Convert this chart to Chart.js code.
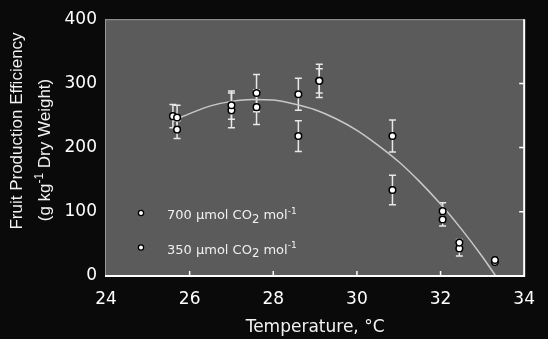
<!DOCTYPE html>
<html><head><meta charset="utf-8">
<script src="https://cdn.jsdelivr.net/npm/chart.js@4"></script>
<style>html,body{margin:0;padding:0;background:#0a0a0a;}canvas{display:block;}</style>
</head><body>
<canvas id="c" width="548" height="339"></canvas>
<script>
// ---- data ----
const temps700 = [25.6, 25.7, 27.0, 27.6, 28.6, 29.1, 30.85, 32.05, 32.45, 33.3];
const eff700   = [249, 247, 266, 285, 283, 304, 218, 101, 52, 25];
const err700   = [18, 19, 22, 29, 25, 26, 25, 13, 5, 3];
const temps350 = [25.7, 27.0, 27.6, 28.6, 29.1, 30.85, 32.05, 32.45, 33.3];
const eff350   = [228, 258, 263, 218, 304, 134, 88, 43, 22];
const err350   = [14, 27, 27, 24, 19, 23, 10, 12, 3];
const fitTemps = [25.7, 26, 26.5, 27, 27.5, 28, 28.5, 29, 29.5, 30, 30.5, 31, 31.5, 32, 32.5, 33, 33.32];
const fitEff   = [245, 253, 265, 272, 275, 274, 268, 259, 245, 227, 204, 178, 147, 112, 73, 30, 0];
const xTickVals = [24, 26, 28, 30, 32, 34];
const yTickVals = [0, 100, 200, 300, 400];
const label700 = '700 µmol CO₂ mol⁻¹';
const label350 = '350 µmol CO₂ mol⁻¹';
const xTitle = 'Temperature, °C';
const yTitle = ['Fruit Production Efficiency', '(g kg⁻¹ Dry Weight)'];

const FONT = '"Liberation Sans", Arial, Helvetica, sans-serif';
const WFONT = '"DejaVu Sans", Verdana, sans-serif';
const pts = (xs, ys) => xs.map((v, i) => ({x: v, y: ys[i]}));

function richParts(str){
  const sub = {'₂':'2'}, sup = {'⁻':'-', '¹':'1'};
  const parts = [];
  for (const ch of str){
    let t = 'n', c = ch;
    if (sub[ch]) { t = 'sub'; c = sub[ch]; }
    else if (sup[ch]) { t = 'sup'; c = sup[ch]; }
    const last = parts[parts.length-1];
    if (last && last.t === t) last.s += c; else parts.push({t, s:c});
  }
  return parts;
}
function drawRich(ctx, str, x, y, size, align, family){
  const parts = richParts(str);
  const sz = p => p.t === 'n' ? size : (p.t === 'sub' ? size*0.9 : size*0.7);
  let w = 0;
  parts.forEach(p => { ctx.font = sz(p) + 'px ' + family; p.w = ctx.measureText(p.s).width; w += p.w; });
  let cx = align === 'center' ? x - w/2 : x;
  ctx.textAlign = 'left'; ctx.textBaseline = 'alphabetic';
  parts.forEach(p => {
    ctx.font = sz(p) + 'px ' + family;
    const dy = p.t === 'sub' ? size*0.28 : (p.t === 'sup' ? -size*0.4 : 0);
    ctx.fillText(p.s, cx, y + dy);
    cx += p.w;
  });
}

const bgPlugin = {
  id: 'bg',
  beforeDraw(chart){
    const {ctx, chartArea: a} = chart;
    ctx.save();
    ctx.fillStyle = '#0a0a0a';
    ctx.fillRect(0, 0, chart.width, chart.height);
    ctx.fillStyle = '#5b5b5b';
    ctx.fillRect(a.left - 1, a.top, a.right - a.left + 1, a.bottom - a.top);
    ctx.strokeStyle = '#9a9a9a'; ctx.lineWidth = 1;
    ctx.beginPath();
    ctx.moveTo(a.left - 1, a.top + 0.5); ctx.lineTo(a.right, a.top + 0.5);
    ctx.moveTo(a.left - 0.5, a.top); ctx.lineTo(a.left - 0.5, a.bottom);
    ctx.stroke();
    ctx.restore();
  }
};

const errorBarPlugin = {
  id: 'errbars',
  beforeDatasetsDraw(chart){
    const {ctx, scales: {x, y}} = chart;
    ctx.save();
    ctx.strokeStyle = '#e8e8e8'; ctx.lineWidth = 1.5;
    chart.data.datasets.forEach(ds => {
      if (!ds.errors) return;
      ds.data.forEach((p, i) => {
        const e = ds.errors[i];
        const px = x.getPixelForValue(p.x);
        const t = y.getPixelForValue(p.y + e), b = y.getPixelForValue(p.y - e);
        ctx.beginPath();
        ctx.moveTo(px, t); ctx.lineTo(px, b);
        ctx.moveTo(px - 3.5, t); ctx.lineTo(px + 3.5, t);
        ctx.moveTo(px - 3.5, b); ctx.lineTo(px + 3.5, b);
        ctx.stroke();
      });
    });
    ctx.restore();
  }
};

const framePlugin = {
  id: 'frame',
  afterDraw(chart){
    const {ctx, chartArea: a, scales: {x, y}} = chart;
    ctx.save();
    ctx.strokeStyle = '#ffffff'; ctx.lineWidth = 2;
    ctx.beginPath();
    ctx.moveTo(a.left - 1, a.bottom); ctx.lineTo(a.right, a.bottom);
    ctx.moveTo(a.right, a.top); ctx.lineTo(a.right, a.bottom + 1);
    ctx.stroke();
    ctx.lineWidth = 1.5;
    ctx.beginPath();
    x.ticks.forEach(t => {
      if (t.value <= x.min || t.value >= x.max) return;
      const px = x.getPixelForValue(t.value);
      ctx.moveTo(px, a.bottom); ctx.lineTo(px, a.bottom - 5);
    });
    y.ticks.forEach(t => {
      if (t.value <= y.min || t.value >= y.max) return;
      const py = y.getPixelForValue(t.value);
      ctx.moveTo(a.right, py); ctx.lineTo(a.right - 5, py);
    });
    ctx.stroke();

    // y axis title (two lines, rotated)
    const lines = chart.options.scales.y.title.text;
    ctx.fillStyle = '#f2f2f2';
    const baselines = [21.5, 49.5];
    const centers = [131, 150];
    lines.forEach((ln, i) => {
      ctx.save();
      ctx.translate(baselines[i], centers[i]);
      ctx.rotate(-Math.PI/2);
      drawRich(ctx, ln, 0, 0, 17, 'center', FONT);
      ctx.restore();
    });

    // legend inside plot
    const ds = chart.data.datasets.filter(d => d.errors);
    ds.forEach((d, i) => {
      const my = 213 + i*34.5;
      ctx.beginPath();
      ctx.arc(141, my, 2.6, 0, Math.PI*2);
      ctx.fillStyle = '#ffffff'; ctx.fill();
      ctx.lineWidth = 1.3; ctx.strokeStyle = '#000000'; ctx.stroke();
      ctx.fillStyle = '#f0f0f0';
      drawRich(ctx, d.label, 167, my + 6, 13, 'left', WFONT);
    });
    ctx.restore();
  }
};

new Chart(document.getElementById('c'), {
  type: 'scatter',
  data: {
    datasets: [
      { label: label700, data: pts(temps700, eff700), errors: err700,
        pointRadius: 3.3, pointBorderWidth: 1.5, backgroundColor: '#ffffff', borderColor: '#000000', showLine: false },
      { label: label350, data: pts(temps350, eff350), errors: err350,
        pointRadius: 3.3, pointBorderWidth: 1.5, backgroundColor: '#ffffff', borderColor: '#000000', showLine: false },
      { label: 'fit', data: pts(fitTemps, fitEff), showLine: true, pointRadius: 0,
        borderColor: '#c8c8c8', borderWidth: 1.5, cubicInterpolationMode: 'monotone', fill: false }
    ]
  },
  options: {
    responsive: false, animation: false, devicePixelRatio: 1,
    layout: { padding: { top: 16, right: 11, left: 0, bottom: 0 } },
    plugins: { legend: { display: false }, tooltip: { enabled: false } },
    scales: {
      x: {
        type: 'linear', min: 24, max: 34,
        afterBuildTicks: s => { s.ticks = xTickVals.map(v => ({value: v})); },
        afterFit: s => { s.height = 63; },
        grid: { display: false, drawTicks: false },
        border: { display: false },
        ticks: { color: '#ffffff', font: { family: WFONT, size: 17 }, padding: 13, maxRotation: 0 },
        title: { display: true, text: xTitle, color: '#f2f2f2', font: { family: WFONT, size: 17 }, padding: { top: 0, bottom: 1.5 } }
      },
      y: {
        type: 'linear', min: 0, max: 400,
        afterBuildTicks: s => { s.ticks = yTickVals.map(v => ({value: v})); },
        afterFit: s => { s.width = 106; },
        grid: { display: false, drawTicks: false },
        border: { display: false },
        ticks: { color: '#ffffff', font: { family: WFONT, size: 17 }, padding: 9 },
        title: { display: false, text: yTitle }
      }
    }
  },
  plugins: [bgPlugin, errorBarPlugin, framePlugin]
});
</script>
</body></html>
